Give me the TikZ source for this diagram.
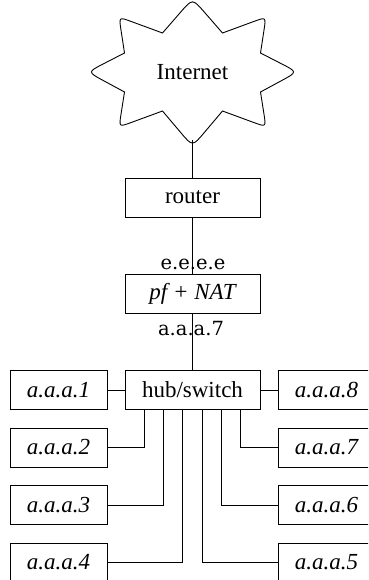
\documentclass[tikz,border=0pt]{standalone}
\usepackage{fontspec}
\setmainfont{Liberation Serif}
\newfontfamily\lblfont{DejaVu Serif}
\usetikzlibrary{calc}
\begin{document}
\begin{tikzpicture}[x=1pt,y=-1pt,line width=0.9pt,
  box/.style={draw,minimum width=135pt,minimum height=39pt,inner sep=0pt,font=\fontsize{23}{27}\selectfont},
  host/.style={draw,minimum width=97pt,minimum height=39pt,inner sep=0pt,font=\fontsize{23}{27}\selectfont\itshape},
  lbl/.style={font=\lblfont\fontsize{19.5}{22}\selectfont,inner sep=0pt,anchor=base}]
\useasboundingbox (0,0) rectangle (368,580);
\clip (0,0) rectangle (368,580);
% cloud
\coordinate (i1) at (162.5,33);
\coordinate (T) at (192.5,-1.5);
\coordinate (i2) at (222.5,33);
\coordinate (UR) at (266,17);
\coordinate (i3) at (260.5,53);
\coordinate (R) at (297.5,72);
\coordinate (i4) at (260.5,92);
\coordinate (LR) at (266,127);
\coordinate (i5) at (222.5,111);
\coordinate (B) at (192.5,146.5);
\coordinate (i6) at (162.5,111);
\coordinate (LL) at (119,127);
\coordinate (i7) at (124.5,92);
\coordinate (L) at (87.5,72);
\coordinate (i8) at (124.5,53);
\coordinate (UL) at (119,17);
\draw (i1) -- ($(T)!18pt!(i1)$) .. controls (T) .. ($(T)!18pt!(i2)$)
  -- (i2) -- ($(UR)!13pt!(i2)$) .. controls (UR) .. ($(UR)!13pt!(i3)$)
  -- (i3) -- ($(R)!18pt!(i3)$) .. controls (R) .. ($(R)!18pt!(i4)$)
  -- (i4) -- ($(LR)!13pt!(i4)$) .. controls (LR) .. ($(LR)!13pt!(i5)$)
  -- (i5) -- ($(B)!18pt!(i5)$) .. controls (B) .. ($(B)!18pt!(i6)$)
  -- (i6) -- ($(LL)!13pt!(i6)$) .. controls (LL) .. ($(LL)!13pt!(i7)$)
  -- (i7) -- ($(L)!18pt!(i7)$) .. controls (L) .. ($(L)!18pt!(i8)$)
  -- (i8) -- ($(UL)!13pt!(i8)$) .. controls (UL) .. ($(UL)!13pt!(i1)$)
  -- cycle;
\node[font=\fontsize{23}{27}\selectfont] (inet) at (192.5,72) {Internet};
\coordinate (cb) at (192.5,140);
% main boxes
\node[box] (router) at (192.5,197.5) {router};
\node[box] (pf) at (192.5,293.5) {\itshape pf + NAT};
\node[box] (hub) at (192.5,390) {hub/switch};
\draw (cb) -- (router.north);
\draw (router.south) -- (pf.north);
\draw (pf.south) -- (hub.north);
\node[lbl] (ext) at (193,269.5) {e.e.e.e};
\node[lbl] (int) at (191,335.5) {a.a.a.7};
% hosts
\node[host] (a1) at (58.5,390) {a.a.a.1};
\node[host] (a2) at (58.5,447.5) {a.a.a.2};
\node[host] (a3) at (58.5,505) {a.a.a.3};
\node[host] (a4) at (58.5,562.5) {a.a.a.4};
\node[host] (a8) at (326.5,390) {a.a.a.8};
\node[host] (a7) at (326.5,447.5) {a.a.a.7};
\node[host] (a6) at (326.5,505) {a.a.a.6};
\node[host] (a5) at (326.5,562.5) {a.a.a.5};
\draw (hub.west) -- (a1.east);
\draw (hub.east) -- (a8.west);
\draw ([xshift=-48.2pt]hub.south) |- (a2.east);
\draw ([xshift=-29.2pt]hub.south) |- (a3.east);
\draw ([xshift=-9.8pt]hub.south) |- (a4.east);
\draw ([xshift=9.8pt]hub.south) |- (a5.west);
\draw ([xshift=29.2pt]hub.south) |- (a6.west);
\draw ([xshift=48.2pt]hub.south) |- (a7.west);
\end{tikzpicture}
\end{document}
